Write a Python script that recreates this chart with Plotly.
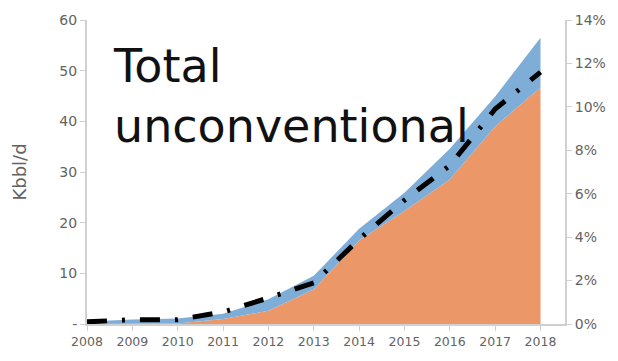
import plotly.graph_objects as go

years = [2008, 2009, 2010, 2011, 2012, 2013, 2014, 2015, 2016, 2017, 2018]
orange_vals = [0.0, 0.0, 0.1, 1.0, 2.6, 6.8, 16.5, 22.3, 28.5, 39.0, 46.7]
total_vals = [0.5, 0.9, 1.1, 2.0, 4.9, 9.5, 18.8, 25.9, 34.6, 44.9, 56.5]
share_pct = [0.1, 0.2, 0.2, 0.55, 1.2, 1.9, 3.9, 5.7, 7.3, 9.9, 11.6]
left_ticks = [0, 10, 20, 30, 40, 50, 60]
left_labels = ["-", "10", "20", "30", "40", "50", "60"]
right_ticks = [0, 2, 4, 6, 8, 10, 12, 14]
right_labels = ["0%", "2%", "4%", "6%", "8%", "10%", "12%", "14%"]

gray = "#636363"
axis_col = "#d0d0d0"
font_family = "DejaVu Sans"

fig = go.Figure()
fig.add_trace(go.Scatter(x=years, y=orange_vals, mode="lines", line=dict(width=0),
                         fill="tozeroy", fillcolor="#eb9768", hoverinfo="skip", showlegend=False))
fig.add_trace(go.Scatter(x=years, y=total_vals, mode="lines", line=dict(width=0),
                         fill="tonexty", fillcolor="#7eaed8", hoverinfo="skip", showlegend=False))
fig.add_trace(go.Scatter(x=years, y=share_pct, mode="lines", yaxis="y2",
                         line=dict(color="black", width=5, dash="20px,15px,3px,15px"),
                         showlegend=False))

fig.update_layout(
    width=618, height=361,
    margin=dict(l=87, r=48, t=20, b=36),
    plot_bgcolor="white", paper_bgcolor="white",
    font=dict(family=font_family, color=gray, size=13),
    xaxis=dict(range=[2008, 2018.54], tickvals=years, ticktext=[str(y) for y in years],
               showgrid=False, zeroline=False, showline=True, linecolor=axis_col, linewidth=2,
               ticks="outside", tickcolor=axis_col, ticklen=5, tickwidth=1,
               tickfont=dict(size=12.5, color=gray)),
    yaxis=dict(range=[0, 60], tickvals=left_ticks, ticktext=left_labels,
               showgrid=False, zeroline=False, showline=True, linecolor=axis_col, linewidth=2,
               ticks="outside", tickcolor=axis_col, ticklen=5,
               tickfont=dict(size=14, color=gray),
               title=dict(text="Kbbl/d", font=dict(size=18, color=gray), standoff=28)),
    yaxis2=dict(range=[0, 14], tickvals=right_ticks, ticktext=right_labels, overlaying="y",
                side="right", showgrid=False, zeroline=False, showline=True, linecolor=axis_col,
                linewidth=2, ticks="outside", tickcolor=axis_col, ticklen=5,
                tickfont=dict(size=14, color=gray)),
)

fig.add_annotation(text="Total<br>unconventional", xref="paper", yref="paper",
                   x=0.05, y=0.945, xanchor="left", yanchor="top", showarrow=False, align="left",
                   font=dict(family=font_family, size=46, color="#111111"))

fig.write_html("out.html")
